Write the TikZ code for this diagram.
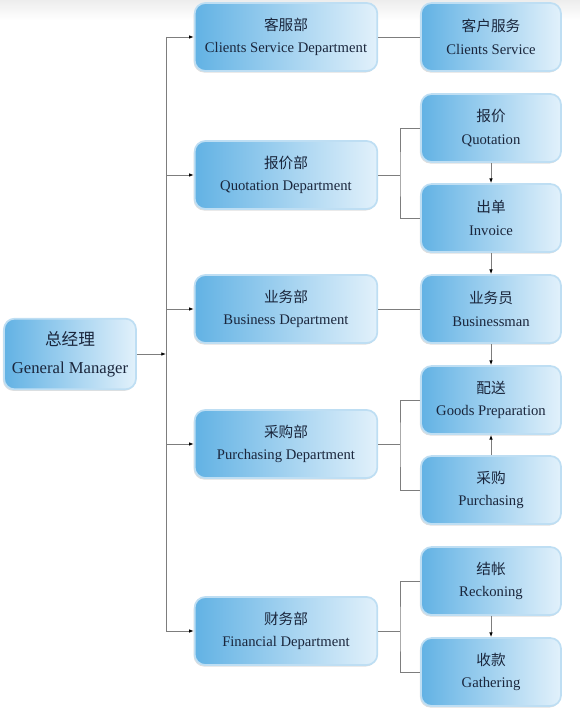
\documentclass[tikz,border=0pt]{standalone}
\usepackage{fontspec}
\setmainfont{Liberation Serif}
\newfontfamily\cjk{Noto Sans CJK SC}
\usetikzlibrary{arrows.meta, shadows, positioning}

\definecolor{boxleft}{RGB}{98,178,228}
\definecolor{boxright}{RGB}{226,241,251}
\definecolor{boxedge}{RGB}{190,222,243}
\definecolor{boxtext}{RGB}{26,38,60}
\definecolor{linkgray}{RGB}{125,125,125}

\begin{document}
\begin{tikzpicture}[x=0.75pt, y=-0.75pt,
    box/.style={rounded corners=8pt, draw=boxedge, line width=1.3pt,
        left color=boxleft, right color=boxright, text=boxtext,
        align=center, inner sep=0pt, font=\fontsize{11}{17}\selectfont,
        drop shadow={opacity=0.25, shadow xshift=-0.8pt, shadow yshift=-1.2pt}},
    deptbox/.style={box, minimum width=137pt, minimum height=51pt},
    taskbox/.style={box, minimum width=105pt, minimum height=51pt},
    link/.style={draw=linkgray, line width=0.6pt},
    arr/.style={link, -{Latex[length=3.5pt, width=2.6pt, color=black]}}]
    \useasboundingbox (0,0) rectangle (580,710);

    % Background band at the top
    \shade[top color=gray!14, bottom color=white] (0,0) rectangle (580,20);

    % General manager
    \node[box, minimum width=99pt, minimum height=53pt, font=\fontsize{12.5}{21}\selectfont]
        (gm) at (70,354) {{\cjk 总经理}\\General Manager};

    % Departments
    \node[deptbox] (csd) at (286,37)  {{\cjk 客服部}\\Clients Service Department};
    \node[deptbox] (qd)  at (286,175) {{\cjk 报价部}\\Quotation Department};
    \node[deptbox] (bd)  at (286,309) {{\cjk 业务部}\\Business Department};
    \node[deptbox] (pd)  at (286,444) {{\cjk 采购部}\\Purchasing Department};
    \node[deptbox] (fd)  at (286,631) {{\cjk 财务部}\\Financial Department};

    % Tasks
    \node[taskbox] (cs)  at (491,37)  {{\cjk 客户服务}\\Clients Service};
    \node[taskbox] (quo) at (491,128) {{\cjk 报价}\\Quotation};
    \node[taskbox] (inv) at (491,218) {{\cjk 出单}\\Invoice};
    \node[taskbox] (bm)  at (491,309) {{\cjk 业务员}\\Businessman};
    \node[taskbox] (gp)  at (491,400) {{\cjk 配送}\\Goods Preparation};
    \node[taskbox] (pur) at (491,490) {{\cjk 采购}\\Purchasing};
    \node[taskbox] (rec) at (491,581) {{\cjk 结帐}\\Reckoning};
    \node[taskbox] (gat) at (491,672) {{\cjk 收款}\\Gathering};

    % Trunk from the manager
    \coordinate (jn) at (166,354);
    \draw[arr] (gm) -- (jn);
    \draw[link] (jn |- csd) -- (jn |- fd);
    \foreach \d in {csd,qd,bd,pd,fd}
        \draw[arr] (jn |- \d) -- (\d);

    % Departments to tasks
    \draw[link] (csd) -- (cs);
    \draw[link] (bd) -- (bm);
    \coordinate (qj) at (400,175);
    \draw[link] (qd) -- (qj);
    \draw[link] (quo.west) -| (qj) |- (inv.west);
    \coordinate (pj) at (400,444);
    \draw[link] (pd) -- (pj);
    \draw[link] (gp.west) -| (pj) |- (pur.west);
    \coordinate (fj) at (400,631);
    \draw[link] (fd) -- (fj);
    \draw[link] (rec.west) -| (fj) |- (gat.west);

    % Task order
    \draw[arr] (quo) -- (inv);
    \draw[arr] (inv) -- (bm);
    \draw[arr] (bm) -- (gp);
    \draw[arr] (pur) -- (gp);
    \draw[arr] (rec) -- (gat);
\end{tikzpicture}
\end{document}
